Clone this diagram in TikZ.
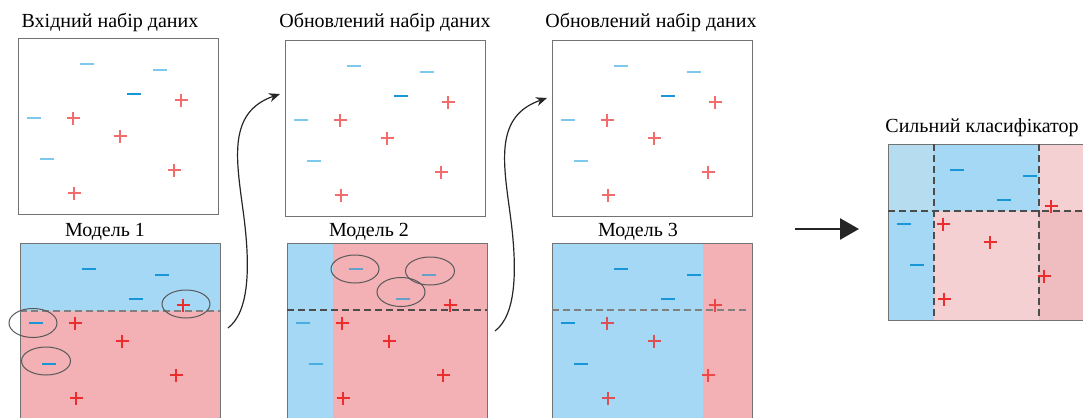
\documentclass[tikz,border=0pt]{standalone}
\usepackage{fontspec}
\setmainfont{Liberation Serif}
\usetikzlibrary{positioning, arrows.meta}
\definecolor{negblue}{RGB}{25,150,215}
\definecolor{neglight}{RGB}{125,200,236}
\definecolor{posred}{RGB}{236,45,45}
\definecolor{bgblue}{RGB}{164,216,244}
\definecolor{bgpink}{RGB}{243,176,181}
\definecolor{mixblue}{RGB}{181,221,239}
\definecolor{mixpink}{RGB}{245,208,210}
\definecolor{deeppink}{RGB}{239,188,191}

% the same ten points in every panel (px from the panel's top left)
\newcommand{\negpts}{69/26, 142/32, 116/56, 16/80, 29/121}
\newcommand{\pospts}{163/62, 55/80, 102/98, 156/132, 56/155}
\newcommand{\drawdata}[2]{%
  \foreach \x/\y in \negpts
    \draw[minusmark, #1] (\x-7,\y) -- (\x+7,\y);
  \foreach \x/\y in \pospts
    \draw[plusmark, #2] (\x-6.5,\y) -- (\x+6.5,\y) (\x,\y-6.5) -- (\x,\y+6.5);
}

\begin{document}
\begin{tikzpicture}[x=0.5pt, y=-0.5pt,
    panel/.style={draw=black!55, line width=0.6pt, minimum width=100pt, minimum height=88pt, inner sep=0pt, anchor=north west},
    ttl/.style={font=\fontsize{10}{12}\selectfont, anchor=base, inner sep=0pt},
    minusmark/.style={negblue, line width=0.85pt},
    plusmark/.style={posred, line width=0.6pt},
    miss/.style={black!65, line width=0.5pt},
    split/.style={black!50, line width=0.6pt, dash pattern=on 3.5pt off 2pt},
    curvy/.style={-{Stealth[length=5.5pt, width=4.5pt]}, line width=0.6pt, black!85}]
  \clip (0,0) rectangle (1083,418);

  % datasets
  \node[panel] (t1) at (18,38) {};
  \node[panel] (t2) at (285,40) {};
  \node[panel] (t3) at (552,40) {};
  \node[ttl] (h1) at (110,27) {Вхідний набір даних};
  \node[ttl] (h2) at (385,27) {Обновлений набір даних};
  \node[ttl] (h3) at (651,27) {Обновлений набір даних};
  \foreach \p in {t1, t2, t3} {
    \begin{scope}[shift={(\p.north west)}]
      \drawdata{neglight}{opacity=0.7}
      \draw[minusmark] (109,56) -- (123,56);
    \end{scope}
  }

  % weak models
  \node[ttl] (l1) at (105,236) {Модель 1};
  \node[ttl] (l2) at (369,236) {Модель 2};
  \node[ttl] (l3) at (638,236) {Модель 3};
  \begin{scope}[shift={(20,243)}]
    \fill[bgblue] (0,0) rectangle (200,68);
    \fill[bgpink] (0,68) rectangle (200,190);
    \node[panel, minimum height=95pt] (b1) at (0,0) {};
    \draw[split] (0,68) -- (200,68);
    \drawdata{}{}
    \draw[miss] (166,61) ellipse [x radius=24, y radius=14];
    \draw[miss] (13,80) ellipse [x radius=24, y radius=14.5];
    \draw[miss] (26,118) ellipse [x radius=24.5, y radius=14];
  \end{scope}
  \begin{scope}[shift={(287,243)}]
    \fill[bgblue] (0,0) rectangle (46,190);
    \fill[bgpink] (46,0) rectangle (200,190);
    \node[panel, minimum height=95pt] (b2) at (0,0) {};
    \draw[split, black!70] (0,67) -- (200,67);
    \drawdata{opacity=0.65}{}
    \draw[miss] (68,26) ellipse [x radius=24, y radius=14];
    \draw[miss] (143,28) ellipse [x radius=24.5, y radius=14];
    \draw[miss] (114,49) ellipse [x radius=24, y radius=14.5];
  \end{scope}
  \begin{scope}[shift={(552,243)}]
    \fill[bgblue] (0,0) rectangle (151,190);
    \fill[bgpink] (151,0) rectangle (200,190);
    \node[panel, minimum height=95pt] (b3) at (0,0) {};
    \draw[split] (0,67) -- (196,67);
    \drawdata{}{opacity=0.8}
  \end{scope}

  % strong classifier
  \node[ttl] (h4) at (982,132) {Сильний класифікатор};
  \begin{scope}[shift={(888,144)}]
    \fill[mixblue] (0,0) rectangle (46,67);
    \fill[bgblue] (46,0) rectangle (151,67);
    \fill[mixpink] (151,0) rectangle (200,67);
    \fill[bgblue] (0,67) rectangle (46,176);
    \fill[mixpink] (46,67) rectangle (151,176);
    \fill[deeppink] (151,67) rectangle (200,176);
    \node[panel] (sc) at (0,0) {};
    \draw[split, black!70] (46,0) -- (46,176) (151,0) -- (151,176) (0,67) -- (200,67);
    \drawdata{}{}
  \end{scope}

  % arrows
  \coordinate (a1) at (228,328);
  \coordinate (a2) at (280,94);
  \coordinate (a3) at (495,331);
  \coordinate (a4) at (547,98);
  \foreach \s/\e in {a1/a2, a3/a4}
    \draw[curvy] (\s) .. controls +(21,-16) and +(8,58) .. ++(15,-118)
      .. controls +(-7,-52) and +(-52,18) .. (\e);
  \coordinate (g1) at (795,229);
  \coordinate (g2) at (859,229);
  \draw[-{Triangle[length=9.5pt, width=10.5pt]}, line width=1.3pt, black!85] (g1) -- (g2);
\end{tikzpicture}
\end{document}
